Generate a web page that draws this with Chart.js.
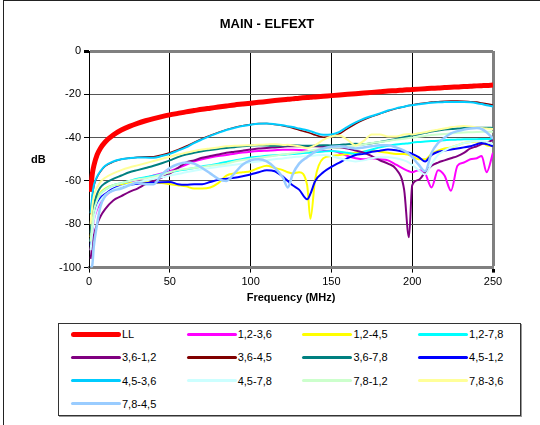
<!DOCTYPE html>
<html>
<head>
<meta charset="utf-8">
<script src="https://cdn.jsdelivr.net/npm/chart.js@4.4.1/dist/chart.umd.min.js"></script>
<style>
body { margin: 0; background: #fff; font-family: "Liberation Sans", Arial, sans-serif; }
#frame { position: absolute; left: 3px; top: 0; width: 600px; height: 500px; border-left: 1px solid #222; border-top: 1px solid #222; }
#c { position: absolute; left: 0; top: 0; }
#title { position: absolute; left: 167px; width: 200px; top: 16px; text-align: center; font-size: 13px; line-height: 15px; font-weight: bold; }
#ylab { position: absolute; left: 31px; top: 153px; font-size: 11px; font-weight: bold; }
#legend { position: absolute; left: 58px; top: 323px; width: 461px; height: 91px; border: 1px solid #333; box-shadow: 1px 1px 0 #999; background: #fff; }
.item { position: absolute; height: 14px; font-size: 11px; line-height: 14px; white-space: nowrap; }
.item span.ln { position: absolute; left: 0; width: 50px; border-radius: 3px; }
.item span.tx { position: absolute; left: 51px; top: 0; }
</style>
</head>
<body>
<div id="frame"></div>
<canvas id="c" width="540" height="310"></canvas>
<div id="title">MAIN - ELFEXT</div>
<div id="ylab">dB</div>
<div id="legend"></div>
<script>
// frequencies in MHz
let freqs = [1,2,3,5,7,10,15,20,25,30,
  35,40,45,50,55,60,65,70,75,80,
  85,90,95,100,105,110,115,120,123,126,
  130,135,137,140,145,150,155,160,165,170,
  175,180,185,190,195,198,200,204,208,212,
  216,220,224,228,232,236,240,243,246,250]

let ll = [-65,-57,-53,-48,-45,-42,-38.8,-36.5,-34.8,-33.4,
  -32.2,-31.2,-30.3,-29.5,-28.8,-28.1,-27.5,-26.9,-26.4,-25.9,
  -25.4,-24.9,-24.5,-24.1,-23.7,-23.3,-22.9,-22.5,-22.3,-22.1,
  -21.8,-21.5,-21.4,-21.2,-20.9,-20.6,-20.3,-20.0,-19.7,-19.4,
  -19.1,-18.8,-18.5,-18.3,-18.0,-17.9,-17.8,-17.6,-17.4,-17.2,
  -17.1,-16.9,-16.7,-16.6,-16.4,-16.3,-16.1,-16.0,-15.9,-15.7]

let s12_36 = [-92,-84,-78,-73,-70,-67,-64,-62,-60.5,-59.5,
  -58.5,-57.5,-56.5,-55.5,-54,-52.5,-51,-50,-49.2,-48.5,
  -48,-47.4,-46.9,-46.5,-46.2,-46,-45.8,-45.6,-45.6,-45.6,
  -45.7,-46,-46.3,-46.5,-46.2,-46,-47,-48.5,-49.5,-50,
  -49.5,-50,-50.5,-52.5,-54.5,-55.5,-56,-55,-56.5,-63,
  -55,-57.5,-64.5,-53,-51.5,-50,-49.5,-48.5,-56,-47]

let s12_45 = [-86,-78,-73,-68,-65.5,-63.5,-62,-61.5,-61,-60.8,
  -60.5,-60.8,-61,-61.5,-62,-62.5,-63.5,-63.5,-63,-61,
  -57.5,-56.5,-56,-55.5,-54,-53,-54,-55,-56,-56.5,
  -56,-62,-77.5,-59,-49.5,-48.5,-48,-47.5,-47,-46.5,
  -46,-46.5,-47,-47.5,-47.5,-48,-48.5,-50,-50,-47.5,
  -46,-45,-44.5,-43.5,-42.5,-42,-41.8,-42,-43.5,-44]

let s12_78 = [-88,-80,-74,-69,-66,-64,-62,-61,-60,-59,
  -58.3,-57.6,-56.8,-56,-55.3,-54.7,-54,-53.3,-52.7,-52,
  -51.2,-50.5,-49.8,-49.2,-48.8,-48.4,-48.1,-47.9,-47.7,-47.5,
  -47.3,-47,-46.9,-46.7,-46.4,-46.2,-46.5,-47,-47.5,-46.5,
  -45.5,-44.5,-43.8,-43.2,-42.8,-42.6,-42.3,-42,-41.8,-41.6,
  -41.4,-41.2,-41,-40.9,-40.8,-40.7,-40.7,-40.6,-40.6,-40.6]

let s36_12 = [-96,-90,-85,-80,-76.5,-73,-69,-67,-65,-63.5,
  -61.5,-60,-58.5,-56.5,-54,-51.5,-50.5,-49.3,-48.5,-47.8,
  -47,-46.5,-46,-45.5,-45,-44.8,-44.5,-44.2,-44,-44,
  -44,-44,-44,-44,-44.2,-44.5,-44.5,-45,-46,-47,
  -48.5,-50.5,-52,-54.5,-64,-86,-62,-59.5,-56,-53,
  -51.5,-50.5,-49.5,-48.5,-47,-45,-44,-43,-42.5,-41]

let s36_45 = [-75.5,-67.5,-62.5,-58.3,-55.8,-53.2,-51.2,-50,-49.4,-49,
  -48.8,-48.8,-48,-47,-45.6,-44,-42.2,-40.5,-39,-37.6,
  -36.3,-35.3,-34.5,-33.9,-33.5,-33.5,-33.9,-34.5,-35,-35.6,
  -36.5,-37.5,-38,-38.8,-39.8,-39.6,-38.2,-35.8,-33.6,-31.8,
  -30.3,-29,-27.7,-26.6,-25.7,-25.2,-24.9,-24.4,-24,-23.6,
  -23.4,-23.2,-23.1,-23.1,-23.2,-23.4,-23.6,-24,-24.4,-24.9]

let s36_78 = [-84,-76,-71,-66,-63,-61,-59,-57.5,-56,-55,
  -54,-53,-51.8,-50.5,-49,-47.8,-47,-46.3,-45.7,-45.2,
  -44.8,-44.4,-44,-43.7,-43.5,-43.6,-43.8,-43.7,-43.6,-43.5,
  -43.6,-43.8,-43.8,-43.6,-43.5,-43.6,-43.4,-43,-42.8,-43,
  -42.6,-42,-41.3,-40.6,-39.8,-39.3,-39,-38.4,-37.8,-37.2,
  -36.7,-36.3,-36,-35.8,-35.6,-35.5,-35.4,-35.4,-35.4,-35.5]

let s45_12 = [-90,-82,-76,-71,-68,-66,-63.5,-62.5,-61.8,-61.3,
  -61,-60.8,-60.6,-60.5,-61.5,-61.8,-61.5,-61.5,-60.5,-59.5,
  -59,-58.5,-57.8,-57,-56,-55,-55.5,-58,-60,-62,
  -64,-68.5,-66,-60,-56,-53.5,-51.5,-49.5,-48,-47.5,
  -46.5,-46,-45.5,-45.8,-46.5,-47,-47.5,-49,-51,-48,
  -46.5,-46,-45.5,-45,-44.5,-44,-43,-42.5,-43,-44]

let s45_36 = [-75,-67,-62,-58,-55.5,-53,-51,-50,-49.5,-49.2,
  -49.2,-49.3,-48.5,-47.5,-46,-44.5,-42.5,-40.8,-39.2,-37.8,
  -36.5,-35.5,-34.6,-34,-33.6,-33.5,-33.8,-34.3,-34.7,-35.1,
  -35.8,-36.6,-37,-37.8,-38.7,-38.5,-37.3,-35,-33,-31.3,
  -30,-28.8,-27.5,-26.5,-25.7,-25.2,-25,-24.6,-24.2,-23.9,
  -23.7,-23.6,-23.5,-23.5,-23.5,-23.7,-24.1,-24.5,-25,-25.6]

let s45_78 = [-92,-84,-78,-72,-69,-66.5,-64,-62.5,-61.5,-60.5,
  -59.8,-59,-58.3,-57.5,-56.8,-56,-55.3,-54.6,-54,-53.5,
  -53,-52.5,-52,-51.5,-51,-50.5,-50,-49.6,-49.3,-49,
  -48.8,-48.5,-48.4,-48.2,-48,-48.5,-49.5,-50.5,-51,-50.5,
  -49.5,-49,-49,-49.5,-50.5,-51.5,-52.5,-55,-57,-52,
  -48,-46,-44.5,-43.5,-42.5,-42,-41.5,-41.5,-42,-43]

let s78_12 = [-88,-80,-74,-69,-66,-64,-62,-61,-60,-59.3,
  -58.7,-58,-57,-56,-55,-54.5,-54,-53.5,-53,-52.5,
  -52,-51,-50.3,-49.8,-49.3,-48.8,-48.3,-47.8,-47.5,-47.2,
  -46.8,-46.3,-46,-45.6,-45.2,-44.8,-44.5,-44.2,-43.8,-43,
  -42.5,-42,-41.5,-41,-40.5,-40.2,-40,-39.6,-39.2,-38.8,
  -38.5,-38.3,-38,-37.8,-37.6,-37.5,-37.4,-37.3,-37.3,-37.3]

let s78_36 = [-80,-72,-67,-63,-60.5,-58.5,-56.5,-55,-53.8,-52.8,
  -51.8,-50.8,-49.8,-48.8,-47.8,-47,-46.2,-45.5,-45,-44.5,
  -44,-43.8,-43.6,-43.5,-43.3,-43.2,-43,-43.4,-43.3,-43.5,
  -44,-44.8,-44.5,-43.5,-41,-39.5,-39,-41,-43.5,-41.5,
  -38.5,-38.5,-39.5,-39.5,-38.5,-38.3,-38.5,-38,-37.5,-36.8,
  -36.3,-35.8,-35.2,-34.8,-34.6,-34.8,-35.2,-35.5,-35.8,-36]

let s78_45 = [-100,-99,-90,-80,-72,-67,-64.5,-63.5,-62,-60.8,
  -61.5,-61.5,-57,-54,-52.3,-51.5,-52,-54,-56.5,-59,
  -60,-56.5,-52.5,-50.5,-50,-51,-54,-58.5,-63,-57,
  -52,-49,-48,-46.5,-45,-44.2,-44,-44.5,-45,-44.5,
  -44,-43.5,-43.5,-44.5,-46,-47.5,-49,-52.5,-55.5,-47,
  -42.5,-40,-38,-37,-36.2,-35.8,-35.6,-36,-37.5,-40.5]

let names = ['LL','1,2-3,6','1,2-4,5','1,2-7,8','3,6-1,2','3,6-4,5','3,6-7,8',
  '4,5-1,2','4,5-3,6','4,5-7,8','7,8-1,2','7,8-3,6','7,8-4,5']
let values = [ll, s12_36, s12_45, s12_78, s36_12, s36_45, s36_78,
  s45_12, s45_36, s45_78, s78_12, s78_36, s78_45]
let colors = ['#FF0000','#FF00FF','#FFFF00','#00FFFF','#800080','#800000','#008080',
  '#0000FF','#00CCFF','#CCFFFF','#CCFFCC','#FFFF99','#99CCFF']
let widths = [5,2,2,2,2,1.5,2,2,2,2,2,2,2.5]

let datasets = names.map(function(n, i){
  return {
    label: n,
    data: freqs.map(function(f, k){ return {x: f, y: values[i][k]} }),
    borderColor: colors[i],
    borderWidth: widths[i],
    pointRadius: 0,
    fill: false,
    cubicInterpolationMode: 'monotone',
    order: names.length - i   // later series drawn on top, like the original
  }
})

let txtFont = {family: "'Liberation Sans', Arial, sans-serif", size: 11}

new Chart(document.getElementById('c'), {
  type: 'line',
  data: {datasets: datasets},
  options: {
    responsive: false,
    animation: false,
    devicePixelRatio: 1,
    layout: {padding: {left: 0, right: 47, top: 51, bottom: 5}},
    plugins: {
      legend: {display: false},
      tooltip: {enabled: false}
    },
    scales: {
      x: {
        type: 'linear',
        min: 0, max: 250,
        ticks: {stepSize: 50, color: '#000', font: txtFont, padding: 3, maxRotation: 0},
        grid: {
          color: function(c){ return c.tick && c.tick.value == 250 ? '#808080' : '#000' },
          lineWidth: function(c){ return c.tick && c.tick.value == 250 ? 3 : 1 },
          tickColor: '#000',
          tickLength: 5
        },
        border: {color: '#808080', width: 3},
        title: {
          display: true,
          text: 'Frequency (MHz)',
          color: '#000',
          font: {family: "'Liberation Sans', Arial, sans-serif", size: 11, weight: 'bold'},
          padding: {top: 0, bottom: 0}
        }
      },
      y: {
        min: -100, max: 0,
        ticks: {stepSize: 20, color: '#000', font: txtFont, padding: 3},
        grid: {
          color: function(c){ return c.tick && c.tick.value == 0 ? '#808080' : '#555' },
          lineWidth: function(c){ return c.tick && c.tick.value == 0 ? 3 : 1 },
          tickColor: '#000',
          tickLength: 5
        },
        border: {color: '#000', width: 1},
        afterFit: function(s){ s.width = 89 }
      }
    }
  }
})

// legend box, 4 columns
let leg = document.getElementById('legend')
names.forEach(function(n, i){
  let col = i % 4, row = Math.floor(i / 4)
  let d = document.createElement('div')
  d.className = 'item'
  d.style.left = (12 + col * 115.7) + 'px'
  d.style.top = (3 + row * 23.3) + 'px'
  let ln = document.createElement('span')
  ln.className = 'ln'
  let w = i == 0 ? 5 : 3
  ln.style.height = w + 'px'
  ln.style.top = (7 - w / 2) + 'px'
  ln.style.background = colors[i]
  let tx = document.createElement('span')
  tx.className = 'tx'
  tx.textContent = n
  d.appendChild(ln)
  d.appendChild(tx)
  leg.appendChild(d)
})
</script>
</body>
</html>
